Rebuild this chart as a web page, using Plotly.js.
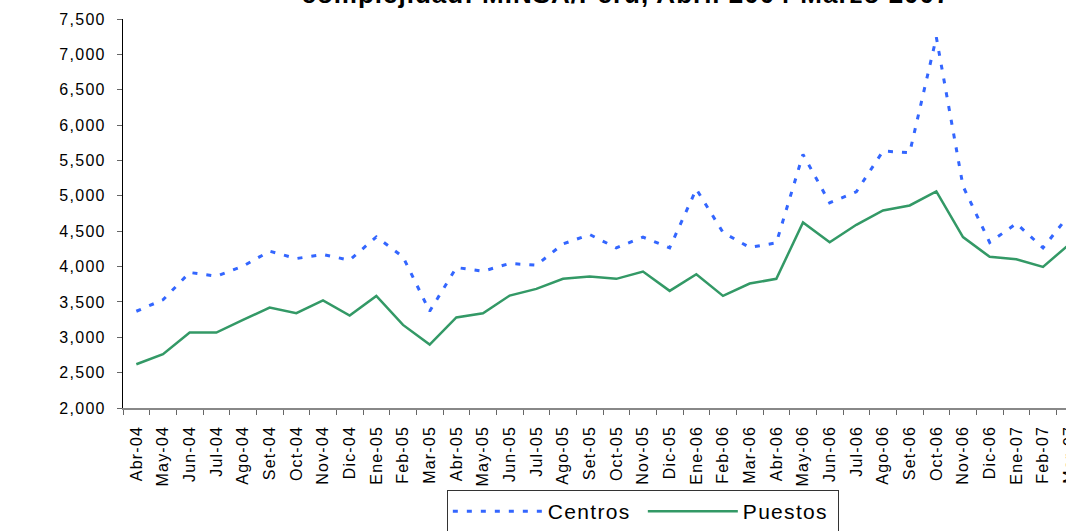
<!DOCTYPE html>
<html>
<head>
<meta charset="utf-8">
<script src="https://cdn.plot.ly/plotly-3.0.1.min.js"></script>
<style>
html,body{margin:0;padding:0;overflow:hidden;background:#fff;width:1066px;height:531px;}
#chart{width:1100px;height:560px;}
#chart .ytick text{letter-spacing:1.3px;}
#chart .xtick text{letter-spacing:1.2px;}
#chart .legendtext{letter-spacing:1.3px;}
#chart .gtitle{letter-spacing:1px;}
</style>
</head>
<body>
<div id="chart"></div>
<script>
const months = ["Abr-04","May-04","Jun-04","Jul-04","Ago-04","Set-04","Oct-04","Nov-04","Dic-04","Ene-05","Feb-05","Mar-05",
                "Abr-05","May-05","Jun-05","Jul-05","Ago-05","Set-05","Oct-05","Nov-05","Dic-05","Ene-06","Feb-06","Mar-06",
                "Abr-06","May-06","Jun-06","Jul-06","Ago-06","Set-06","Oct-06","Nov-06","Dic-06","Ene-07","Feb-07","Mar-07"];
const centros = [3368, 3530, 3916, 3864, 4005, 4217, 4113, 4170, 4090, 4420, 4137, 3368,
                 3986, 3934, 4043, 4019, 4320, 4453, 4264, 4416, 4265, 5095, 4482, 4270,
                 4335, 5586, 4901, 5057, 5633, 5609, 7241, 5137, 4340, 4609, 4264, 4740];
const puestos = [2618, 2760, 3067, 3067, 3245, 3420, 3340, 3520, 3307, 3585, 3175, 2897,
                 3280, 3340, 3590, 3684, 3828, 3859, 3826, 3930, 3656, 3892, 3585, 3760,
                 3826, 4623, 4344, 4590, 4793, 4864, 5062, 4416, 4137, 4104, 3995, 4320];
const titleText = "complejidad: MINSA/Perú, Abril 2004-Marzo 2007";
const yTicks = [2000,2500,3000,3500,4000,4500,5000,5500,6000,6500,7000,7500];

const font = "Liberation Sans, Arial, sans-serif";
const W = 1100, H = 560;
const traces = [
  {x: months, y: centros, name: "Centros", type: "scatter", mode: "lines",
   line: {color: "#3366FF", width: 3, dash: "5px,9px"}},
  {x: months, y: puestos, name: "Puestos", type: "scatter", mode: "lines",
   line: {color: "#339966", width: 2.5}}
];
const layout = {
  width: W, height: H,
  margin: {l: 123, r: 16.5, t: 19, b: H - 408},
  paper_bgcolor: "#fff", plot_bgcolor: "#fff",
  font: {family: font, color: "#000", size: 16},
  title: {text: "<b>" + titleText + "</b>", font: {family: font, size: 26, color: "#000"},
          x: 626/W, xanchor: "center", xref: "container",
          y: 1 - 3/H, yanchor: "bottom", yref: "container"},
  showlegend: true,
  legend: {orientation: "h", x: (447-123)/960.5, xanchor: "left", y: (408-490)/389, yanchor: "top",
           bordercolor: "#333", borderwidth: 1, bgcolor: "#fff", entrywidth: 90,
           font: {family: font, size: 21, color: "#000"}, itemwidth: 90, traceorder: "normal"},
  xaxis: {type: "category", range: [-0.5, 35.5], tickangle: -90, tickson: "boundaries",
          ticks: "outside", ticklen: 5, tickcolor: "#666", tickwidth: 1,
          showline: true, linecolor: "#888", linewidth: 1.5, showgrid: false, zeroline: false,
          tickfont: {family: font, size: 16, color: "#000"}, ticklabelstandoff: 10, fixedrange: true},
  yaxis: {range: [2000, 7500], tickvals: yTicks, tickformat: ",d",
          ticks: "outside", ticklen: 5, tickcolor: "#666", tickwidth: 1,
          showline: true, linecolor: "#000", linewidth: 1, showgrid: false, zeroline: false,
          tickfont: {family: font, size: 16, color: "#000"}, ticklabelstandoff: 8, fixedrange: true}
};
Plotly.newPlot("chart", traces, layout, {displayModeBar: false, staticPlot: true});
</script>
</body>
</html>
